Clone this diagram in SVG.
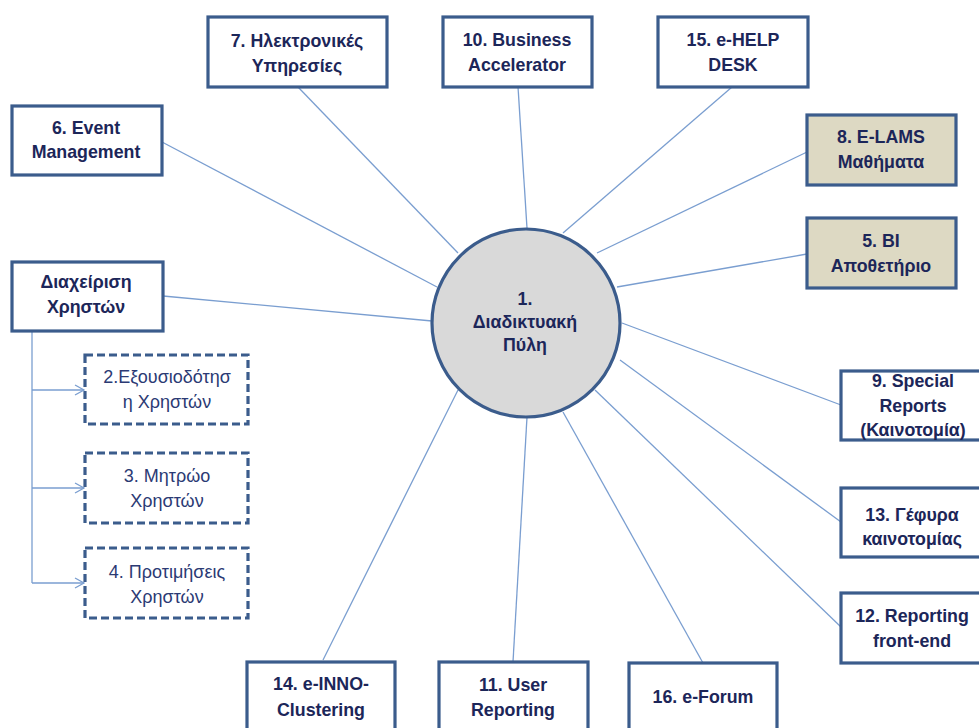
<svg xmlns="http://www.w3.org/2000/svg" width="979" height="728" viewBox="0 0 979 728">
<defs>
<style>
.box{fill:#ffffff;stroke:#3b5c8c;stroke-width:3.2}
.tan{fill:#ddd9c3;stroke:#3b5c8c;stroke-width:3.2}
.dash{fill:#ffffff;stroke:#3b5c8c;stroke-width:3.2;stroke-dasharray:8 4}
.t{font-family:"Liberation Sans",Arial,sans-serif;font-size:17.8px;font-weight:bold;fill:#1c2659;text-anchor:middle}
.r{font-family:"Liberation Sans",Arial,sans-serif;font-size:18px;fill:#2b3a74;text-anchor:middle}
.c{stroke:#7a9ed0;stroke-width:1.3;fill:none}
</style>
<marker id="arr" markerWidth="12" markerHeight="12" refX="10" refY="6" orient="auto" markerUnits="userSpaceOnUse">
<path d="M1,1 L10,6 L1,11" fill="none" stroke="#7a9ed0" stroke-width="1.3"/>
</marker>
</defs>
<rect width="979" height="728" fill="#ffffff"/>
<g id="connectors">
<line class="c" x1="298" y1="87" x2="458" y2="253"/>
<line class="c" x1="162" y1="142" x2="437" y2="287"/>
<line class="c" x1="163" y1="296" x2="432" y2="321"/>
<line class="c" x1="518" y1="87" x2="527" y2="228"/>
<line class="c" x1="732" y1="87" x2="563" y2="233"/>
<line class="c" x1="807" y1="152" x2="597" y2="253"/>
<line class="c" x1="807" y1="254" x2="617" y2="287"/>
<line class="c" x1="841" y1="405" x2="622" y2="323"/>
<line class="c" x1="841" y1="522" x2="620" y2="360"/>
<line class="c" x1="841" y1="627" x2="595" y2="390"/>
<line class="c" x1="703" y1="663" x2="563" y2="412"/>
<line class="c" x1="513" y1="662" x2="527" y2="417"/>
<line class="c" x1="323" y1="660" x2="458" y2="390"/>
<line class="c" x1="32" y1="331" x2="32" y2="583"/>
<line class="c" x1="32" y1="390" x2="84" y2="390" marker-end="url(#arr)"/>
<line class="c" x1="32" y1="488" x2="84" y2="488" marker-end="url(#arr)"/>
<line class="c" x1="32" y1="583" x2="84" y2="583" marker-end="url(#arr)"/>
</g>
<g id="n1">
<circle cx="526" cy="323" r="94" fill="#d9d9d9" stroke="#3b5c8c" stroke-width="3.2"/>
<text class="t" x="525" y="305">1.</text>
<text class="t" x="525" y="328">Διαδικτυακή</text>
<text class="t" x="525" y="351">Πύλη</text>
</g>
<g id="n7">
<rect class="box" x="208" y="17" width="179" height="70"/>
<text class="t" x="297" y="47">7. Ηλεκτρονικές</text>
<text class="t" x="297" y="72">Υπηρεσίες</text>
</g>
<g id="n10">
<rect class="box" x="443" y="17" width="149" height="70"/>
<text class="t" x="517" y="46">10. Business</text>
<text class="t" x="517" y="71">Accelerator</text>
</g>
<g id="n15">
<rect class="box" x="658" y="17" width="150" height="70"/>
<text class="t" x="733" y="46">15. e-HELP</text>
<text class="t" x="733" y="71">DESK</text>
</g>
<g id="n6">
<rect class="box" x="12" y="106" width="150" height="69"/>
<text class="t" x="86" y="134">6. Event</text>
<text class="t" x="86" y="158">Management</text>
</g>
<g id="users">
<rect class="box" x="12" y="262" width="151" height="69"/>
<text class="t" x="86" y="288">Διαχείριση</text>
<text class="t" x="86" y="313">Χρηστών</text>
</g>
<g id="n2">
<rect class="dash" x="85" y="355" width="163" height="69"/>
<text class="r" x="167" y="383">2.Εξουσιοδότησ</text>
<text class="r" x="167" y="408">η Χρηστών</text>
</g>
<g id="n3">
<rect class="dash" x="85" y="453" width="163" height="70"/>
<text class="r" x="167" y="482">3. Μητρώο</text>
<text class="r" x="167" y="507">Χρηστών</text>
</g>
<g id="n4">
<rect class="dash" x="85" y="548" width="163" height="70"/>
<text class="r" x="167" y="578">4. Προτιμήσεις</text>
<text class="r" x="167" y="603">Χρηστών</text>
</g>
<g id="n8">
<rect class="tan" x="807" y="115" width="149" height="70"/>
<text class="t" x="881" y="143">8. E-LAMS</text>
<text class="t" x="881" y="168">Μαθήματα</text>
</g>
<g id="n5">
<rect class="tan" x="807" y="218" width="149" height="70"/>
<text class="t" x="881" y="247">5. BI</text>
<text class="t" x="881" y="272">Αποθετήριο</text>
</g>
<g id="n9">
<rect class="box" x="841" y="371" width="149" height="69"/>
<text class="t" x="913" y="387">9. Special</text>
<text class="t" x="913" y="412">Reports</text>
<text class="t" x="913" y="436">(Καινοτομία)</text>
</g>
<g id="n13">
<rect class="box" x="841" y="488" width="149" height="69"/>
<text class="t" x="912" y="521">13. Γέφυρα</text>
<text class="t" x="912" y="545">καινοτομίας</text>
</g>
<g id="n12">
<rect class="box" x="841" y="593" width="149" height="70"/>
<text class="t" x="912" y="622">12. Reporting</text>
<text class="t" x="912" y="647">front-end</text>
</g>
<g id="n14">
<rect class="box" x="247" y="662" width="148" height="70"/>
<text class="t" x="321" y="690">14. e-INNO-</text>
<text class="t" x="321" y="716">Clustering</text>
</g>
<g id="n11">
<rect class="box" x="439" y="662" width="149" height="70"/>
<text class="t" x="513" y="691">11. User</text>
<text class="t" x="513" y="716">Reporting</text>
</g>
<g id="n16">
<rect class="box" x="629" y="663" width="148" height="70"/>
<text class="t" x="703" y="703">16. e-Forum</text>
</g>
</svg>
